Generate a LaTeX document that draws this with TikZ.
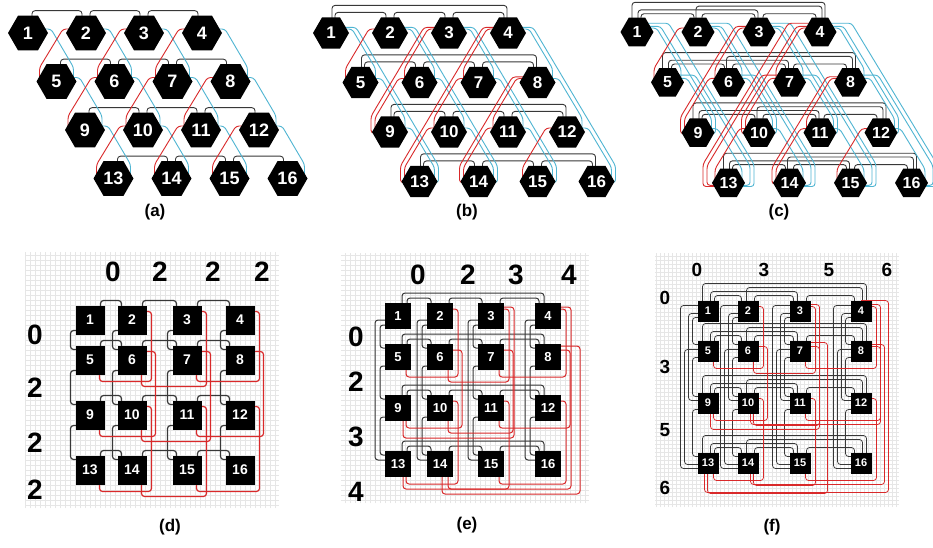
\documentclass[tikz,border=0pt]{standalone}
\usepackage{fontspec}
\setmainfont{Liberation Sans}
\setsansfont{Liberation Sans}
\usetikzlibrary{shapes.geometric, calc}
\definecolor{wireNegro}{HTML}{383838}
\definecolor{wireRojo}{HTML}{D9292A}
\definecolor{wireCian}{HTML}{4FB5D2}
\definecolor{grisRejilla}{HTML}{E6E6E6}
\pgfdeclarelayer{grid}
\pgfdeclarelayer{wires}
\pgfsetlayers{grid,wires,main}
% links between hexagons (#1 panel, #2 from, #3 to, #4 level/offset)
\newcommand{\hexRow}[4]{%
  \draw[bkwire] ($(#1#2)+({4-3*#4},0)$) |- ($(#1#3)+({-4+3*#4},{-(0.866*\pR+\pbase+\plv*#4)})$) -- ($(#1#3)+({-4+3*#4},0)$);}
\newcommand{\hexCol}[4]{%
  \pgfmathsetmacro\ddx{((#3-#2)/4)*\pdx-6}%
  \pgfmathsetmacro\ddy{\ddx*\pdy/\pdx}%
  \draw[cywire] ($(#1#2)+(0,{-4-0.4*#4})$) -- ++({\pR+3+#4},0) -- ++(\ddx,\ddy) |- ($(#1#3)+(0,{0.3*#4})$);}
\newcommand{\hexDiag}[4]{%
  \pgfmathsetmacro\ddx{-(((#3-#2)/3)*\pw-6)}%
  \pgfmathsetmacro\ddy{-\ddx*\pdy/\pw}%
  \draw[rdwire] ($(#1#2)+(0,{-4-0.4*#4})$) -- ++({-\pR-3-#4},0) -- ++(\ddx,\ddy) |- ($(#1#3)+(0,{0.3*#4})$);}
% links between squares
\newcommand{\sqRow}[4]{%
  \draw[bkwire] ($(#1#2)+({\ph-4-\pls*#4},0)$) |- ($(#1#3)+({-\ph+4+\pls*#4},{-(\ph+5+\pls*#4)})$) -- ($(#1#3)+({-\ph+4+\pls*#4},0)$);}
\newcommand{\sqCol}[4]{%
  \draw[bkwire] ($(#1#2)+(0,{\ph-4-\pls*#4})$) -| ($(#1#3)+({-\ph-5-\pls*#4},{-\ph+4+\pls*#4})$) -- ($(#1#3)+(0,{-\ph+4+\pls*#4})$);}
\newcommand{\sqDiag}[4]{%
  \pgfmathtruncatemacro\rpar{mod(floor((#2-1)/4),2)}%
  \pgfmathtruncatemacro\cpar{mod(mod(#2-1,4)+1,2)}%
  \draw[rdwire] ($(#1#2)+(0,{-\ph+6-2*#4})$) -- ++({\ph+5+4*\rpar+\pls*#4},0) |- ($(#1#3)+({\ph-5-3*#4},{\ph+7+5*\cpar+\pls*#4})$) -- ($(#1#3)+({\ph-5-3*#4},0)$);}

\begin{document}
\begin{tikzpicture}[x=1pt, y=-1pt, font=\sffamily\bfseries,
    hexa/.style={regular polygon, regular polygon sides=6,
        fill=black, text=white, inner sep=0pt},
    sq/.style={rectangle, fill=black, text=white, inner sep=0pt},
    bkwire/.style={wireNegro, line width=0.9pt, rounded corners=3pt},
    cywire/.style={wireCian, line width=0.9pt, rounded corners=3pt},
    rdwire/.style={wireRojo, line width=0.9pt, rounded corners=3pt},
    tag/.style={font=\sffamily\bfseries\fontsize{17}{17}\selectfont},
    chan/.style={font=\sffamily\bfseries\fontsize{28}{28}\selectfont}]
    \useasboundingbox (0,0) rectangle (933,547);
    \begin{pgfonlayer}{grid}
        \fill[white] (0,0) rectangle (933,547);
    \end{pgfonlayer}

    % (a) mesh
    \foreach \r in {0,...,3}
        \foreach \c in {0,...,3} {
            \pgfmathtruncatemacro\n{4*\r+\c+1}
            \node[hexa, minimum size=40pt, font=\sffamily\bfseries\fontsize{18}{18}\selectfont]
                (a\n) at ({28+58*\c+28.5*\r},{33+48.5*\r}) {\n};
        }
    \begin{pgfonlayer}{wires}
        \def\pR{20}\def\pdx{28.5}\def\pdy{48.5}\def\pw{29.5}\def\pbase{5}\def\plv{6}
        \foreach \i in {1,2,3,5,6,7,9,10,11,13,14,15} {\pgfmathtruncatemacro\j{\i+1}\hexRow{a}{\i}{\j}{0}}
        \foreach \i in {1,...,12} {\pgfmathtruncatemacro\j{\i+4}\hexCol{a}{\i}{\j}{0}}
        \foreach \i in {2,3,4,6,7,8,10,11,12} {\pgfmathtruncatemacro\j{\i+3}\hexDiag{a}{\i}{\j}{0}}
    \end{pgfonlayer}
    \node[tag] (ta) at (155,212) {(a)};

    % (b) torus
    \foreach \r in {0,...,3}
        \foreach \c in {0,...,3} {
            \pgfmathtruncatemacro\n{4*\r+\c+1}
            \node[hexa, minimum size=36pt, font=\sffamily\bfseries\fontsize{17}{17}\selectfont]
                (b\n) at ({331+59*\c+29.5*\r},{33+49.5*\r}) {\n};
        }
    \begin{pgfonlayer}{wires}
        \def\pR{18}\def\pdx{29.5}\def\pdy{49.5}\def\pw{29.5}\def\pbase{5}\def\plv{7}
        \foreach \i in {1,2,3,5,6,7,9,10,11,13,14,15} {\pgfmathtruncatemacro\j{\i+1}\hexRow{b}{\i}{\j}{0}}
        \foreach \i in {1,5,9,13} {\pgfmathtruncatemacro\j{\i+3}\hexRow{b}{\i}{\j}{1}}
        \foreach \i in {1,...,12} {\pgfmathtruncatemacro\j{\i+4}\hexCol{b}{\i}{\j}{0}}
        \foreach \i in {1,...,4} {\pgfmathtruncatemacro\j{\i+12}\hexCol{b}{\i}{\j}{4}}
        \foreach \i in {2,3,4,6,7,8,10,11,12} {\pgfmathtruncatemacro\j{\i+3}\hexDiag{b}{\i}{\j}{0}}
        \foreach \i/\j in {3/9,4/13,8/14} \hexDiag{b}{\i}{\j}{4};
    \end{pgfonlayer}
    \node[tag] (tb) at (467,212) {(b)};

    % (c) fully connected lines
    \foreach \r in {0,...,3}
        \foreach \c in {0,...,3} {
            \pgfmathtruncatemacro\n{4*\r+\c+1}
            \node[hexa, minimum size=33pt, font=\sffamily\bfseries\fontsize{16}{16}\selectfont]
                (c\n) at ({637+61*\c+30.5*\r},{32+50.3*\r}) {\n};
        }
    \begin{pgfonlayer}{wires}
        \def\pR{16.5}\def\pdx{30.5}\def\pdy{50.3}\def\pw{30.5}\def\pbase{4}\def\plv{3.8}
        \foreach \s in {1,5,9,13}
            \foreach \u/\v/\l in {0/1/0,1/2/0,2/3/0,0/2/1,1/3/2,0/3/3} {
                \pgfmathtruncatemacro\i{\s+\u}\pgfmathtruncatemacro\j{\s+\v}\hexRow{c}{\i}{\j}{\l}}
        \foreach \s in {1,2,3,4}
            \foreach \u/\v/\o in {0/1/0,1/2/0,2/3/0,0/2/4,1/3/8,0/3/12} {
                \pgfmathtruncatemacro\i{\s+4*\u}\pgfmathtruncatemacro\j{\s+4*\v}\hexCol{c}{\i}{\j}{\o}}
        \foreach \i/\j/\o in {2/5/0,3/6/0,6/9/0,3/9/4,4/7/0,7/10/0,10/13/0,4/10/4,7/13/8,4/13/12,
                8/11/0,11/14/0,8/14/4,12/15/0} \hexDiag{c}{\i}{\j}{\o};
    \end{pgfonlayer}
    \node[tag] (tc) at (779,212) {(c)};

    % (d) mesh on grid
    \begin{pgfonlayer}{grid}
        \draw[grisRejilla, line width=0.35pt, step=5pt] (25,252) grid (279,508);
    \end{pgfonlayer}
    \foreach \c/\x in {0/90,1/132,2/187,3/240}
        \foreach \r/\y in {0/320,1/360,2/415,3/470} {
            \pgfmathtruncatemacro\n{4*\r+\c+1}
            \node[sq, minimum size=29pt, font=\sffamily\bfseries\fontsize{14}{14}\selectfont] (d\n) at (\x,\y) {\n};
        }
    \begin{pgfonlayer}{wires}
        \def\ph{14.5}\def\pls{5}
        \tikzset{bkwire/.append style={line width=1.2pt}, rdwire/.append style={line width=1.2pt}}
        \foreach \i in {1,2,3,5,6,7,9,10,11,13,14,15} {\pgfmathtruncatemacro\j{\i+1}\sqRow{d}{\i}{\j}{0}}
        \foreach \i in {1,...,12} {\pgfmathtruncatemacro\j{\i+4}\sqCol{d}{\i}{\j}{0}}
        \foreach \i in {2,3,4,6,7,8,10,11,12} {\pgfmathtruncatemacro\j{\i+3}\sqDiag{d}{\i}{\j}{0}}
    \end{pgfonlayer}
    \foreach \k/\v/\x in {1/0/113,2/2/160,3/2/213,4/2/262} \node[chan] (dt\k) at (\x,272) {\v};
    \foreach \k/\v/\y in {1/0/335,2/2/388,3/2/443,4/2/490} \node[chan] (dl\k) at (35,\y) {\v};
    \node[tag] (td) at (170,527) {(d)};

    % (e) torus on grid
    \begin{pgfonlayer}{grid}
        \draw[grisRejilla, line width=0.35pt, step=5pt] (341,253) grid (589,503);
    \end{pgfonlayer}
    \foreach \c/\x in {0/398,1/440,2/491,3/548}
        \foreach \r/\y in {0/316,1/357,2/408,3/464} {
            \pgfmathtruncatemacro\n{4*\r+\c+1}
            \node[sq, minimum size=26pt, font=\sffamily\bfseries\fontsize{13}{13}\selectfont] (e\n) at (\x,\y) {\n};
        }
    \begin{pgfonlayer}{wires}
        \def\ph{13}\def\pls{5}
        \tikzset{bkwire/.append style={line width=1pt}, rdwire/.append style={line width=1pt}}
        \foreach \i in {1,2,3,5,6,7,9,10,11,13,14,15} {\pgfmathtruncatemacro\j{\i+1}\sqRow{e}{\i}{\j}{0}}
        \foreach \i in {1,5,9,13} {\pgfmathtruncatemacro\j{\i+3}\sqRow{e}{\i}{\j}{1}}
        \foreach \i in {1,...,12} {\pgfmathtruncatemacro\j{\i+4}\sqCol{e}{\i}{\j}{0}}
        \foreach \i in {1,...,4} {\pgfmathtruncatemacro\j{\i+12}\sqCol{e}{\i}{\j}{1}}
        \foreach \i in {2,3,4,6,7,8,10,11,12} {\pgfmathtruncatemacro\j{\i+3}\sqDiag{e}{\i}{\j}{0}}
        \foreach \i/\j/\l in {3/9/1,4/13/1,8/14/2} \sqDiag{e}{\i}{\j}{\l};
    \end{pgfonlayer}
    \foreach \k/\v/\x in {1/0/418,2/2/468,3/3/516,4/4/569} \node[chan] (et\k) at (\x,275) {\v};
    \foreach \k/\v/\y in {1/0/337,2/2/382,3/3/437,4/4/492} \node[chan] (el\k) at (356,\y) {\v};
    \node[tag] (te) at (467,525) {(e)};

    % (f) fully connected on grid
    \begin{pgfonlayer}{grid}
        \draw[grisRejilla, line width=0.35pt, step=4pt] (655,253) grid (899,507);
    \end{pgfonlayer}
    \foreach \c/\x in {0/708,1/748,2/800,3/861}
        \foreach \r/\y in {0/311,1/351,2/403,3/463} {
            \pgfmathtruncatemacro\n{4*\r+\c+1}
            \node[sq, minimum size=21pt, font=\sffamily\bfseries\fontsize{11}{11}\selectfont] (f\n) at (\x,\y) {\n};
        }
    \begin{pgfonlayer}{wires}
        \def\ph{10.5}\def\pls{4}
        \tikzset{bkwire/.append style={line width=0.75pt}, rdwire/.append style={line width=0.75pt}}
        \foreach \s in {1,5,9,13}
            \foreach \u/\v/\l in {0/1/0,1/2/0,2/3/0,0/2/1,1/3/2,0/3/3} {
                \pgfmathtruncatemacro\i{\s+\u}\pgfmathtruncatemacro\j{\s+\v}\sqRow{f}{\i}{\j}{\l}}
        \foreach \s in {1,2,3,4}
            \foreach \u/\v/\l in {0/1/0,1/2/0,2/3/0,0/2/1,1/3/2,0/3/3} {
                \pgfmathtruncatemacro\i{\s+4*\u}\pgfmathtruncatemacro\j{\s+4*\v}\sqCol{f}{\i}{\j}{\l}}
        \foreach \i/\j/\l in {2/5/0,3/6/0,6/9/0,3/9/1,4/7/0,7/10/0,10/13/0,4/10/1,7/13/2,4/13/3,
                8/11/0,11/14/0,8/14/1,12/15/0} \sqDiag{f}{\i}{\j}{\l};
    \end{pgfonlayer}
    \foreach \k/\v/\x in {1/0/697,2/3/764,3/5/829,4/6/887}
        \node[chan, font=\sffamily\bfseries\fontsize{19}{19}\selectfont] (ft\k) at (\x,270) {\v};
    \foreach \k/\v/\y in {1/0/298,2/3/367,3/5/430,4/6/488}
        \node[chan, font=\sffamily\bfseries\fontsize{19}{19}\selectfont] (fl\k) at (665,\y) {\v};
    \node[tag] (tf) at (772,527) {(f)};
\end{tikzpicture}
\end{document}
